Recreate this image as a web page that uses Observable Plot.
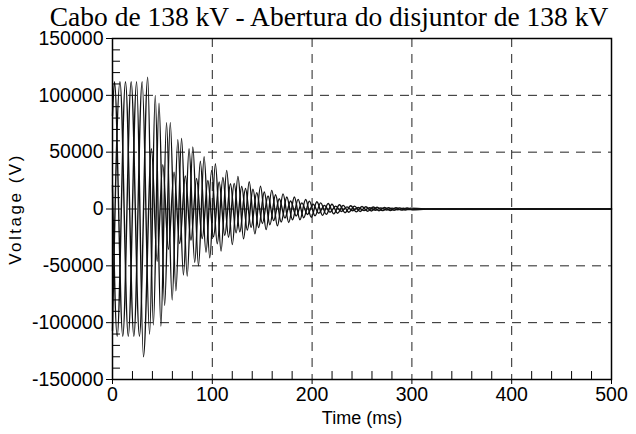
<!DOCTYPE html>
<html><head><meta charset="utf-8">
<script src="https://cdn.jsdelivr.net/npm/d3@7"></script>
<script src="https://cdn.jsdelivr.net/npm/@observablehq/plot@0.6"></script>
<style>body{margin:0;background:#fff}#chart{width:636px;height:434px}</style>
</head><body><div id="chart"></div>
<script>
const title = "Cabo de 138 kV - Abertura do disjuntor de 138 kV";
const xLabel = "Time (ms)";
const yLabel = "Voltage (V)";
const xTicks = [0, 100, 200, 300, 400, 500];
const yTicks = [-150000, -100000, -50000, 0, 50000, 100000, 150000];
const gridX = [100, 200, 300, 400];
const gridY = [-100000, -50000, 0, 50000, 100000];
const minorX = [20,40,60,80,120,140,160,180,220,240,260,280,320,340,360,380,420,440,460,480];
const minorY = [-140000,-130000,-120000,-110000,-90000,-80000,-70000,-60000,-40000,-30000,-20000,-10000,10000,20000,30000,40000,60000,70000,80000,90000,110000,120000,130000,140000];

// extrema of each phase (time in ms, voltage in V)
const phaseA_t = [0, 2, 10.3, 18.7, 27, 35.3, 40.95, 46.6, 52.25, 57.9, 63.55, 69.2, 74.85, 80.5, 86.15, 91.8, 97.45, 103.1, 108.75, 114.4, 120.05, 125.7, 131.35, 137, 142.65, 148.3, 153.95, 159.6, 165.25, 170.9, 176.55, 182.2, 187.85, 193.5, 199.15, 204.8, 210.45, 216.1, 221.75, 227.4, 233.05, 238.7, 244.35, 250, 255.65, 261.3, 266.95, 272.6, 278.25, 283.9, 289.55, 295.2, 300.85, 315, 500];
const phaseA_v = [82000, 112000, -112000, 112000, -112000, 116000, -102000, 93000, -85000, 76000, -72000, 62000, -59000, 54500, -50000, 46000, -43000, 39800, -37000, 34000, -31300, 28700, -26300, 24000, -21900, 20000, -18100, 16400, -14800, 13300, -11900, 10600, -9400, 8300, -7300, 6400, -5600, 4900, -4300, 3700, -3300, 2850, -2500, 2200, -2000, 1800, -1600, 1450, -1300, 1150, -1000, 900, -800, 0, 0];
const phaseB_t = [0, 7.5, 15.8, 24.2, 31, 39.07, 44.72, 50.37, 56.02, 61.67, 67.32, 72.97, 78.62, 84.27, 89.92, 95.57, 101.22, 106.87, 112.52, 118.17, 123.82, 129.47, 135.12, 140.77, 146.42, 152.07, 157.72, 163.37, 169.02, 174.67, 180.32, 185.97, 191.62, 197.27, 202.92, 208.57, 214.22, 219.87, 225.52, 231.17, 236.82, 242.47, 248.12, 253.77, 259.42, 265.07, 270.72, 276.37, 282.02, 287.67, 293.32, 298.97, 312, 500];
const phaseB_v = [-107000, 112000, -112000, 112000, -130000, 53000, -46000, 39000, -35500, 32400, -30400, 29000, -27400, 26800, -26100, 25100, -24500, 23800, -23100, 22200, -21000, 19800, -18600, 17400, -16300, 15000, -13800, 12500, -11500, 10500, -9500, 8500, -7700, 6900, -6000, 5400, -4700, 4200, -3700, 3200, -2850, 2500, -2200, 1950, -1750, 1550, -1400, 1250, -1100, 1000, -900, 800, 0, 0];
const phaseC_t = [0, 4.7, 13, 21.4, 29.7, 37.18, 42.83, 48.48, 54.13, 59.78, 65.43, 71.08, 76.73, 82.38, 88.03, 93.68, 99.33, 104.98, 110.63, 116.28, 121.93, 127.58, 133.23, 138.88, 144.53, 150.18, 155.83, 161.48, 167.13, 172.78, 178.43, 184.08, 189.73, 195.38, 201.03, 206.68, 212.33, 217.98, 223.63, 229.28, 234.93, 240.58, 246.23, 251.88, 257.53, 263.18, 268.83, 274.48, 280.13, 285.78, 291.43, 297.08, 310, 500];
const phaseC_v = [21000, -112000, 112000, -112000, 112000, -110000, 100000, -103000, 76000, -80000, 61000, -58000, 53000, -47000, 42000, -38000, 34000, -30700, 27700, -24800, 22500, -20100, 18100, -16100, 14400, -12700, 11400, -10200, 9000, -7900, 7000, -6100, 5400, -4800, 4200, -3700, 3200, -2800, 2500, -2200, 1900, -1600, 1450, -1300, 1150, -1050, 930, -840, 750, -660, 600, -540, 0, 0];

const toRows = (ts, vs) => ts.map((t, i) => ({t, v: vs[i]}));
const series = [toRows(phaseA_t, phaseA_v), toRows(phaseB_t, phaseB_v), toRows(phaseC_t, phaseC_v)];

const sans = "Liberation Sans, Arial, sans-serif";
const chart = Plot.plot({
  width: 636, height: 434,
  marginLeft: 112, marginRight: 25, marginTop: 38, marginBottom: 55,
  style: {fontFamily: sans, fontSize: "19px", color: "#000", background: "#fff"},
  x: {domain: [0, 500]},
  y: {domain: [-150000, 150000]},
  marks: [
    Plot.ruleX(gridX, {stroke: "#222", strokeDasharray: "9,7", strokeWidth: 1}),
    Plot.ruleY(gridY, {stroke: "#222", strokeDasharray: "9,7", strokeWidth: 1}),
    ...series.map(d => Plot.line(d, {x: "t", y: "v", curve: "monotone-x", stroke: "#111", strokeWidth: 1.4})),
    Plot.ruleX(minorX, {y1: -150000, y2: -143000, stroke: "#000"}),
    Plot.ruleY(minorY, {x1: 0, x2: 8, stroke: "#000"}),
    Plot.frame({stroke: "#000", strokeWidth: 1.5}),
    Plot.axisX(xTicks, {tickSize: 5, tickPadding: 3, label: null, fontSize: 19.5}),
    Plot.axisY(yTicks, {tickSize: 6, tickPadding: 3, label: null, fontSize: 19.5, tickFormat: d => String(d)}),
    Plot.text([xLabel], {frameAnchor: "bottom", dy: 44, fontSize: 18}),
    Plot.text([yLabel], {frameAnchor: "left", textAnchor: "middle", dx: -97, rotate: -90, fontSize: 17}),
    Plot.text([title], {frameAnchor: "top", dx: -33, dy: -32.5, fontSize: 27.5, fontFamily: "Liberation Serif, Times New Roman, serif"})
  ]
});
document.getElementById("chart").append(chart);
d3.select(chart).selectAll("text").filter(function(){return this.textContent === yLabel;}).attr("letter-spacing", "2.5px");
</script>
</body></html>
